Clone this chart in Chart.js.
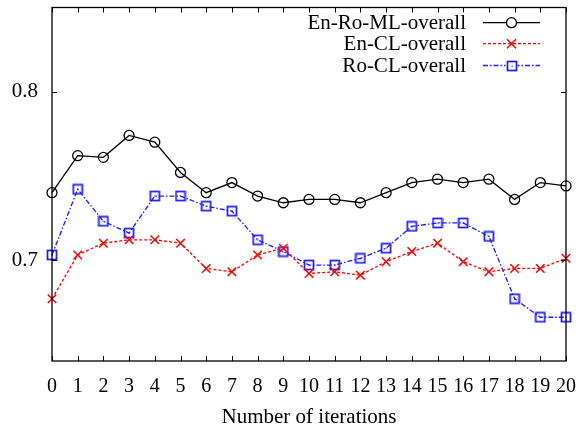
<!DOCTYPE html>
<html>
<head>
<meta charset="utf-8">
<script src="https://cdn.jsdelivr.net/npm/chart.js@4"></script>
<style>
html,body{margin:0;padding:0;background:#fff;}
#wrap{width:581px;height:430px;}
</style>
</head>
<body>
<div id="wrap"><canvas id="c" width="581" height="430"></canvas></div>
<script>
const iterations = ["0","1","2","3","4","5","6","7","8","9","10","11","12","13","14","15","16","17","18","19","20"];
const enRoML = [0.740,0.762,0.761,0.774,0.770,0.752,0.740,0.746,0.738,0.734,0.736,0.736,0.734,0.740,0.746,0.748,0.746,0.748,0.736,0.746,0.744];
const enCL   = [0.677,0.703,0.710,0.712,0.712,0.710,0.695,0.693,0.703,0.707,0.692,0.693,0.691,0.699,0.705,0.710,0.699,0.693,0.695,0.695,0.701];
const roCL   = [0.703,0.742,0.723,0.716,0.738,0.738,0.732,0.729,0.712,0.705,0.697,0.697,0.701,0.707,0.720,0.722,0.722,0.714,0.677,0.666,0.666];
const yTicks = [0.7, 0.8];
const seriesNames = ["En-Ro-ML-overall","En-CL-overall","Ro-CL-overall"];

const FONT = "'Liberation Serif', 'DejaVu Serif', serif";
const BLUE = "#1a1aff";
const RED = "#ff0000";

// hollow square with a dot in the middle (marker image)
function squareDot(){
  const s = 12, cv = document.createElement('canvas');
  cv.width = s; cv.height = s;
  const x = cv.getContext('2d');
  x.strokeStyle = BLUE; x.lineWidth = 1.7;
  x.strokeRect(1.5,1.5,9,9);
  x.fillStyle = BLUE; x.fillRect(5.5,5.5,1.2,1.2);
  return cv;
}
const sqImg = squareDot();

const boxPlugin = {
  id: 'boxPlugin',
  afterDatasetsDraw(chart){
    const {ctx, chartArea:a, scales} = chart;
    ctx.save();
    ctx.strokeStyle = '#000'; ctx.lineWidth = 1.3;
    ctx.strokeRect(a.left, a.top, a.right-a.left, a.bottom-a.top);
    ctx.lineWidth = 1;
    ctx.beginPath();
    for (let i=0;i<iterations.length;i++){
      const px = Math.round(scales.x.getPixelForValue(i))+0.5;
      ctx.moveTo(px, a.bottom); ctx.lineTo(px, a.bottom-5);
      ctx.moveTo(px, a.top); ctx.lineTo(px, a.top+5);
    }
    for (const v of yTicks){
      const py = Math.round(scales.y.getPixelForValue(v))+0.5;
      ctx.moveTo(a.left, py); ctx.lineTo(a.left+5, py);
      ctx.moveTo(a.right, py); ctx.lineTo(a.right-5, py);
    }
    ctx.stroke();
    // legend
    const rows = [22.7, 43.7, 65.5];
    const textRight = 466, l0 = 483, l1 = 540, mid = (l0+l1)/2;
    ctx.font = "21px " + FONT;
    ctx.textAlign = 'right'; ctx.textBaseline = 'middle';
    chart.data.datasets.forEach((ds,i)=>{
      const y = rows[i];
      ctx.fillStyle = '#000';
      ctx.fillText(seriesNames[i], textRight, y+1);
      ctx.strokeStyle = ds.borderColor; ctx.lineWidth = ds.borderWidth;
      ctx.setLineDash(ds.borderDash || []);
      ctx.beginPath(); ctx.moveTo(l0, y); ctx.lineTo(l1, y); ctx.stroke();
      ctx.setLineDash([]);
      if (i===0){
        ctx.beginPath(); ctx.arc(mid, y, 5, 0, Math.PI*2); ctx.fillStyle='#fff'; ctx.fill(); ctx.lineWidth=1.3; ctx.stroke();
      } else if (i===1){
        ctx.lineWidth=1.5; ctx.beginPath();
        ctx.moveTo(mid-4.5,y-4.5); ctx.lineTo(mid+4.5,y+4.5); ctx.moveTo(mid+4.5,y-4.5); ctx.lineTo(mid-4.5,y+4.5); ctx.stroke();
      } else {
        ctx.fillStyle='#fff'; ctx.fillRect(mid-6,y-6,12,12);
        ctx.drawImage(sqImg, Math.round(mid)-6, Math.round(y)-6);
      }
    });
    ctx.restore();
  }
};

new Chart(document.getElementById('c'), {
  type: 'line',
  data: {
    labels: iterations,
    datasets: [
      {label: seriesNames[0], data: enRoML, borderColor:'#000', borderWidth:1.3, pointStyle:'circle', pointRadius:5, pointBorderWidth:1.3, pointBackgroundColor:'rgba(0,0,0,0)', pointBorderColor:'#000', tension:0},
      {label: seriesNames[1], data: enCL, borderColor:RED, borderWidth:1.3, borderDash:[3,2], pointStyle:'crossRot', pointRadius:6, pointBorderWidth:1.5, pointBorderColor:RED, tension:0},
      {label: seriesNames[2], data: roCL, borderColor:BLUE, borderWidth:1.3, borderDash:[5,2,1.5,2], pointStyle:sqImg, pointRadius:6, pointBorderColor:BLUE, tension:0}
    ]
  },
  options: {
    responsive:false, animation:false,
    layout:{padding:{left:0, right:15, top:6, bottom:0}},
    plugins:{legend:{display:false}, tooltip:{enabled:false}},
    scales:{
      x:{
        type:'category', offset:false,
        afterFit(s){ s.height = 69; s.paddingLeft = 0; s.paddingRight = 0; },
        grid:{display:false, drawTicks:false}, border:{display:false},
        ticks:{color:'#000', font:{family:FONT, size:20}, padding:14, maxRotation:0, autoSkip:false},
        title:{display:true, text:'Number of iterations', color:'#000', font:{family:FONT, size:21}, padding:{top:4,bottom:0}}
      },
      y:{
        min:0.64, max:0.85,
        afterBuildTicks(s){ s.ticks = yTicks.map(v=>({value:v})); },
        afterFit(s){ s.width = 52; s.paddingTop = 0; s.paddingBottom = 0; },
        grid:{display:false, drawTicks:false}, border:{display:false},
        ticks:{color:'#000', font:{family:FONT, size:21}, padding:14, callback:v=>v.toFixed(1)}
      }
    }
  },
  plugins:[boxPlugin]
});
</script>
</body>
</html>
